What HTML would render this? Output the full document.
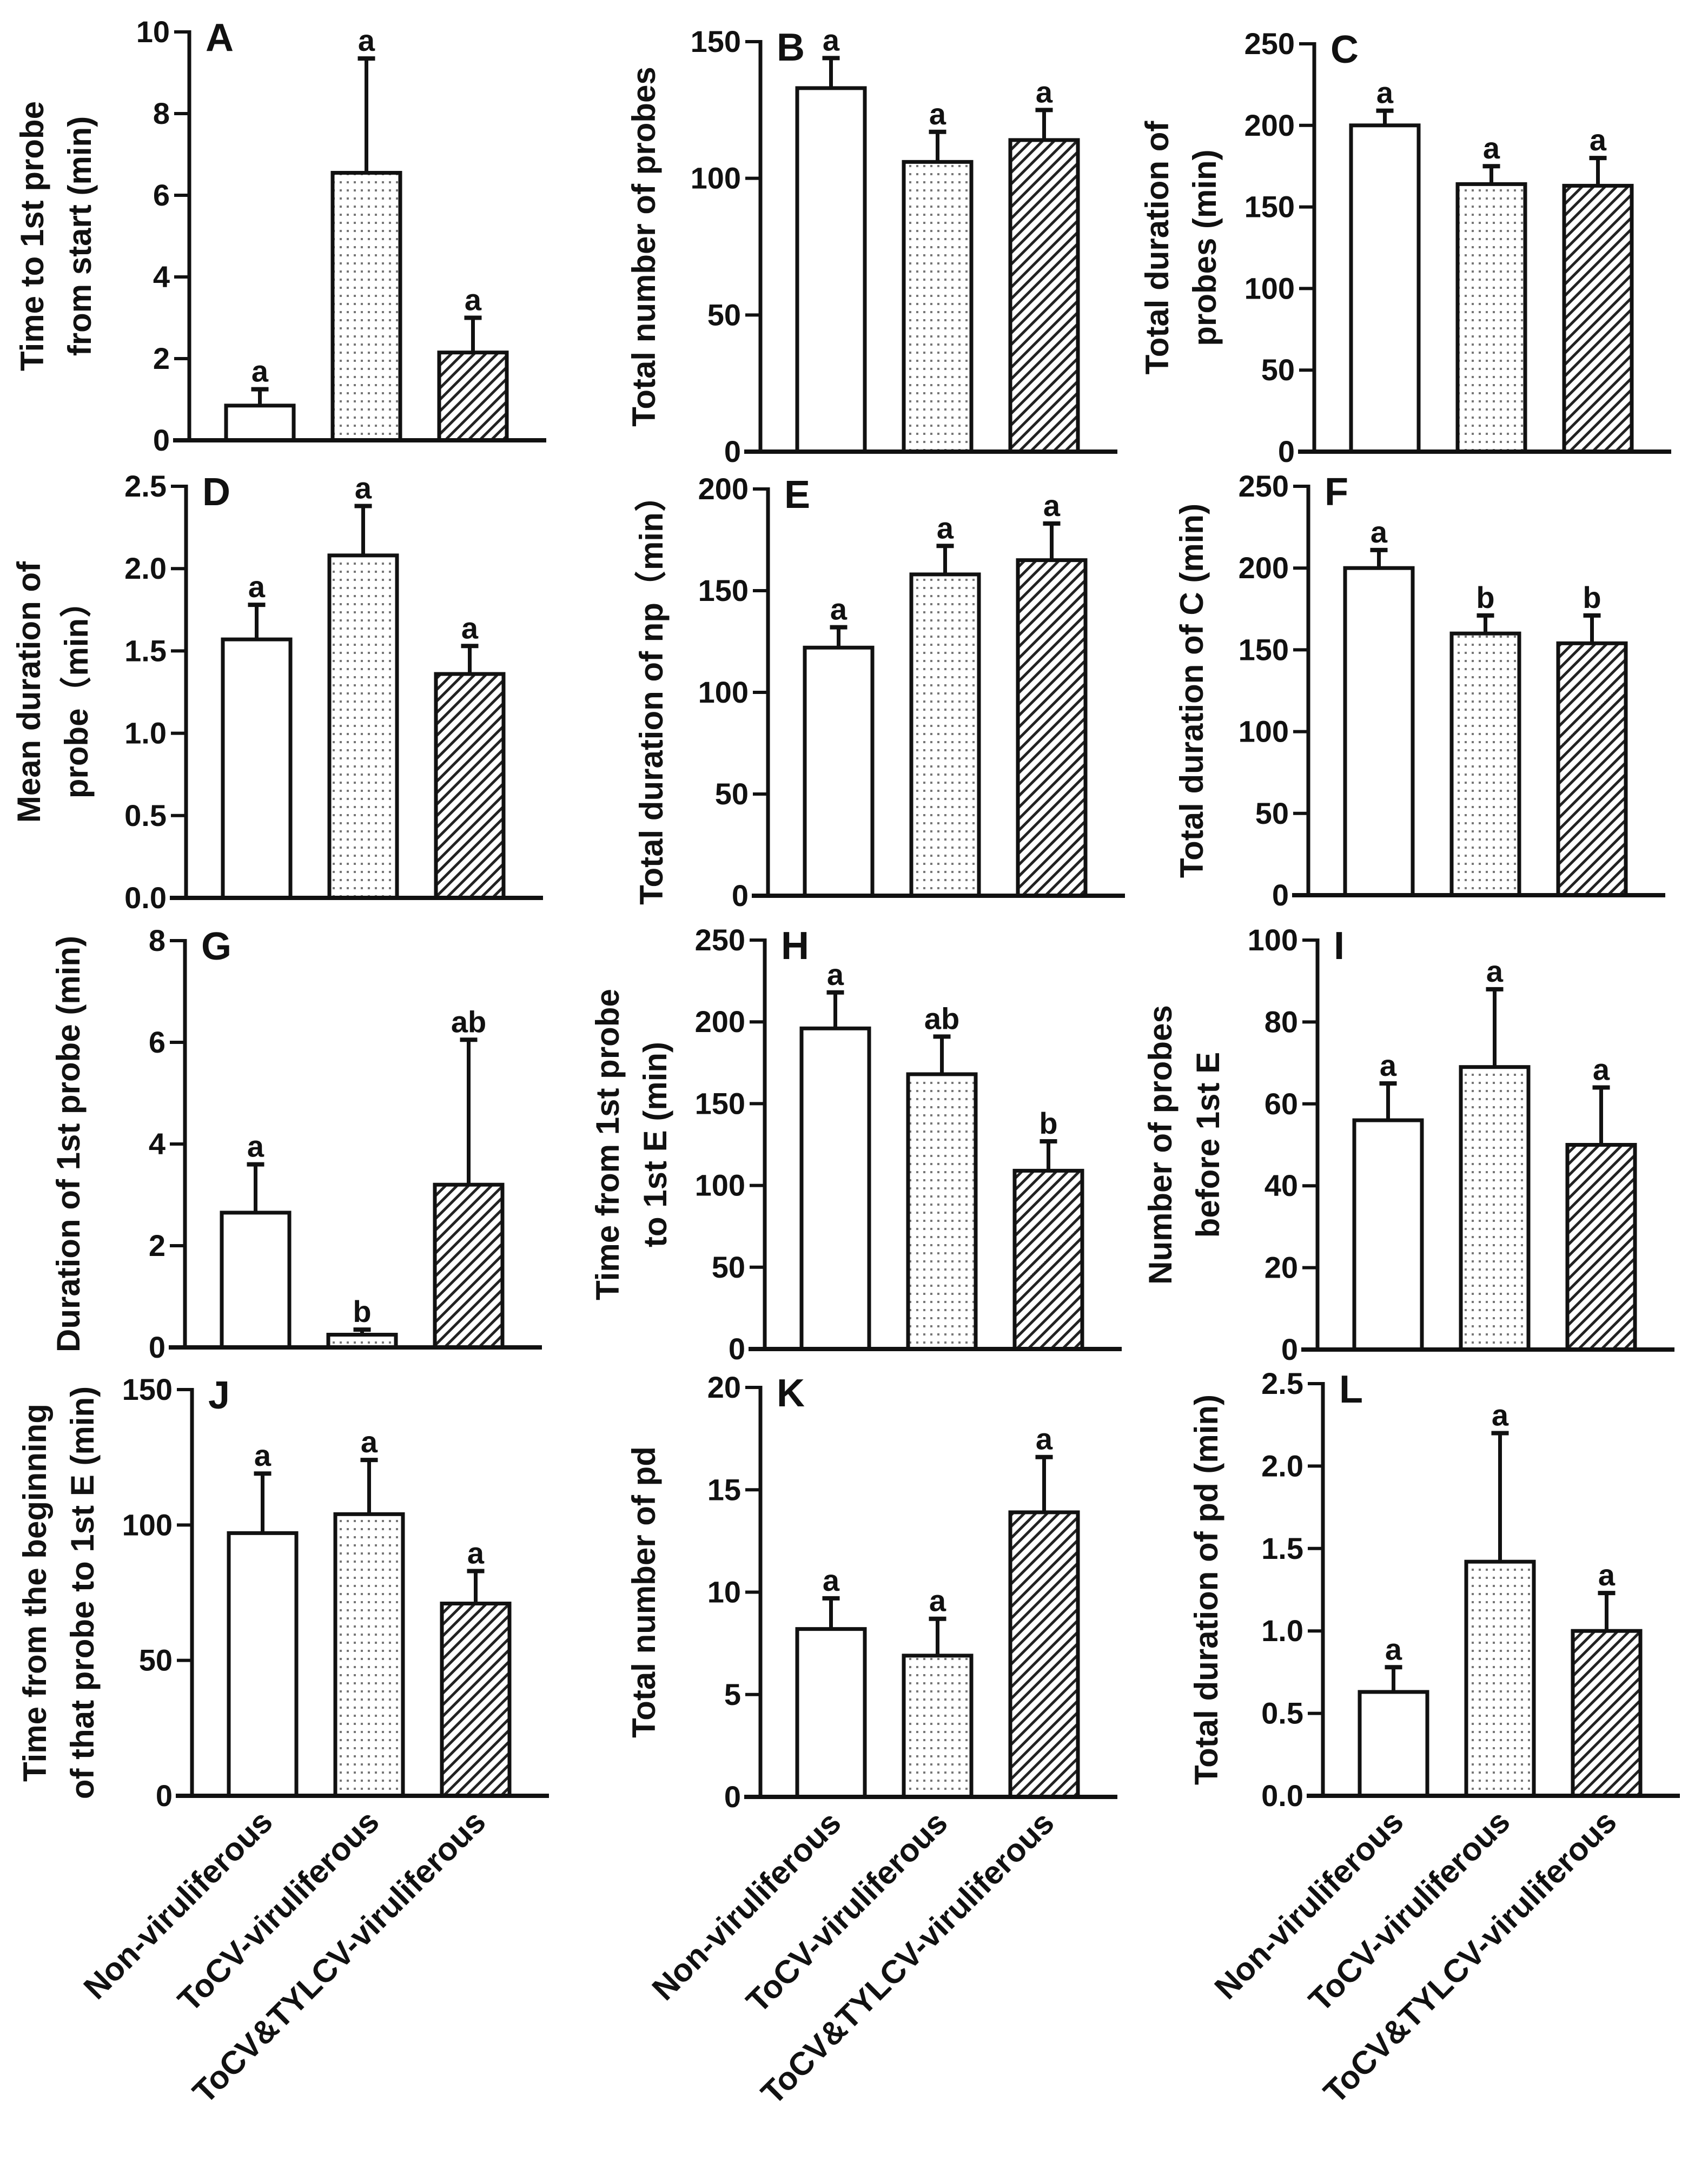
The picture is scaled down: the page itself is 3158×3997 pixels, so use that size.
<!DOCTYPE html>
<html><head><meta charset="utf-8"><style>
html,body{margin:0;padding:0;background:#fff;}
svg{display:block;}
</style></head><body>
<svg id="fig" width="3158" height="3997" xmlns="http://www.w3.org/2000/svg">
<defs>
<pattern id="dots" width="13" height="15" patternUnits="userSpaceOnUse">
<rect width="13" height="15" fill="#fff"/>
<rect x="4" y="5" width="4" height="4" fill="#777"/>
</pattern>
<pattern id="hatch" width="15" height="15" patternUnits="userSpaceOnUse" patternTransform="rotate(45)">
<rect width="15" height="15" fill="#fff"/>
<rect x="0" y="0" width="5" height="15" fill="#222"/>
</pattern>
</defs>
</svg>
<script>
const categories = ["Non-viruliferous", "ToCV-viruliferous", "ToCV&TYLCV-viruliferous"];

const aMeans = [0.85, 6.55, 2.15];
const aErrs = [1.25, 9.35, 3.0];
const aLetters = ["a", "a", "a"];
const aTicks = [0, 2, 4, 6, 8, 10];

const bMeans = [133, 106, 114];
const bErrs = [144, 117, 125];
const bLetters = ["a", "a", "a"];
const bTicks = [0, 50, 100, 150];

const cMeans = [200, 164, 163];
const cErrs = [209, 175, 180];
const cLetters = ["a", "a", "a"];
const cTicks = [0, 50, 100, 150, 200, 250];

const dMeans = [1.57, 2.08, 1.36];
const dErrs = [1.78, 2.38, 1.53];
const dLetters = ["a", "a", "a"];
const dTicks = [0, 0.5, 1.0, 1.5, 2.0, 2.5];

const eMeans = [122, 158, 165];
const eErrs = [132, 172, 183];
const eLetters = ["a", "a", "a"];
const eTicks = [0, 50, 100, 150, 200];

const fMeans = [200, 160, 154];
const fErrs = [211, 171, 171];
const fLetters = ["a", "b", "b"];
const fTicks = [0, 50, 100, 150, 200, 250];

const gMeans = [2.65, 0.25, 3.2];
const gErrs = [3.6, 0.35, 6.05];
const gLetters = ["a", "b", "ab"];
const gTicks = [0, 2, 4, 6, 8];

const hMeans = [196, 168, 109];
const hErrs = [218, 191, 127];
const hLetters = ["a", "ab", "b"];
const hTicks = [0, 50, 100, 150, 200, 250];

const iMeans = [56, 69, 50];
const iErrs = [65, 88, 64];
const iLetters = ["a", "a", "a"];
const iTicks = [0, 20, 40, 60, 80, 100];

const jMeans = [97, 104, 71];
const jErrs = [119, 124, 83];
const jLetters = ["a", "a", "a"];
const jTicks = [0, 50, 100, 150];

const kMeans = [8.2, 6.9, 13.9];
const kErrs = [9.7, 8.7, 16.6];
const kLetters = ["a", "a", "a"];
const kTicks = [0, 5, 10, 15, 20];

const lMeans = [0.63, 1.42, 1.0];
const lErrs = [0.78, 2.2, 1.23];
const lLetters = ["a", "a", "a"];
const lTicks = [0, 0.5, 1.0, 1.5, 2.0, 2.5];

const NS = "http://www.w3.org/2000/svg";
const svg = document.getElementById("fig");
function mk(tag, attrs, parent) {
  const e = document.createElementNS(NS, tag);
  for (const k in attrs) e.setAttribute(k, attrs[k]);
  (parent || svg).appendChild(e);
  return e;
}
const fills = ["#fff", "url(#dots)", "url(#hatch)"];
const fillNames = ["solid", "dotted", "hatched"];

function panel(p) {
  const g = mk("g", {});
  
  
  const max = p.ticks[p.ticks.length - 1];
  const y = v => p.bottom - (v / max) * (p.bottom - p.top);
  const barX = [p.ax + 68, p.ax + 265, p.ax + 462];
  const bw = 125;
  for (let i = 0; i < 3; i++) {
    const yt = y(p.means[i]);
    const r = mk("rect", {x: barX[i], y: yt, width: bw, height: p.bottom - yt, fill: fills[i], stroke: "#111", "stroke-width": 7}, g);
    
    
    const cx = barX[i] + bw / 2;
    const ye = y(p.errs[i]);
    const el = mk("line", {x1: cx, x2: cx, y1: yt, y2: ye, stroke: "#111", "stroke-width": 7}, g);
    
    
    mk("line", {x1: cx - 16, x2: cx + 16, y1: ye, y2: ye, stroke: "#111", "stroke-width": 8}, g);
    const t = mk("text", {x: cx, y: ye - 14, "text-anchor": "middle", "font-size": 56, "font-weight": "bold", "font-family": "Liberation Sans, sans-serif", fill: "#111"}, g);
    t.textContent = p.letters[i];
    
    
  }
  const ya = mk("line", {x1: p.ax, x2: p.ax, y1: p.top - 3, y2: p.bottom, stroke: "#111", "stroke-width": 7}, g);
  
  
  const xa = mk("line", {x1: p.ax - 30, x2: p.ax + 660, y1: p.bottom, y2: p.bottom, stroke: "#111", "stroke-width": 8}, g);
  
  
  for (const tv of p.ticks) {
    const yy = y(tv);
    mk("line", {x1: p.ax - 28, x2: p.ax, y1: yy, y2: yy, stroke: "#111", "stroke-width": 6}, g);
    const t = mk("text", {x: p.ax - 36, y: yy + 19, "text-anchor": "end", "font-size": 56, "font-weight": "bold", "font-family": "Liberation Sans Narrow, Liberation Sans, sans-serif", fill: "#111"}, g);
    t.textContent = p.dec ? tv.toFixed(1) : String(tv);
    
    
  }
  const pl = mk("text", {x: p.ax + 30, y: p.top + 35, "font-size": 72, "font-weight": "bold", "font-family": "Liberation Sans, sans-serif", fill: "#111"}, g);
  pl.textContent = p.id;
  
  
  const cy = (p.top + p.bottom) / 2;
  const lines = p.title;
  const xs = lines.length === 1 ? [p.ax - 195] : [p.ax - 270, p.ax - 182];
  lines.forEach((ln, k) => {
    const t = mk("text", {x: xs[k], y: cy, "text-anchor": "middle", "font-size": 60, "font-weight": "bold", "font-family": "Liberation Sans, Noto Sans CJK SC, sans-serif", fill: "#111", transform: `rotate(-90 ${xs[k]} ${cy})`}, g);
    t.textContent = ln;
    
    
  });
  if (p.xlabels) {
    for (let i = 0; i < 3; i++) {
      const tx = barX[i] + bw / 2 + 22, ty = p.bottom + 52;
      const t = mk("text", {x: tx, y: ty, "text-anchor": "end", "font-size": 60, "font-weight": "bold", "font-family": "Liberation Sans, sans-serif", fill: "#111", transform: `rotate(-45 ${tx} ${ty})`}, g);
      t.textContent = categories[i];
      
      
    }
  }
}

panel({id: "A", ax: 350, top: 59, bottom: 814, means: aMeans, errs: aErrs, letters: aLetters, ticks: aTicks, title: ["Time to 1st probe", "from start (min)"]});
panel({id: "B", ax: 1406, top: 77, bottom: 835, means: bMeans, errs: bErrs, letters: bLetters, ticks: bTicks, title: ["Total number of probes"]});
panel({id: "C", ax: 2430, top: 81, bottom: 835, means: cMeans, errs: cErrs, letters: cLetters, ticks: cTicks, title: ["Total duration of", "probes (min)"]});
panel({id: "D", ax: 344, top: 899, bottom: 1660, means: dMeans, errs: dErrs, letters: dLetters, ticks: dTicks, dec: true, title: ["Mean duration of", "probe（min）"]});
panel({id: "E", ax: 1420, top: 904, bottom: 1656, means: eMeans, errs: eErrs, letters: eLetters, ticks: eTicks, title: ["Total duration of np（min）"]});
panel({id: "F", ax: 2419, top: 899, bottom: 1655, means: fMeans, errs: fErrs, letters: fLetters, ticks: fTicks, title: ["Total duration of C (min)"]});
panel({id: "G", ax: 342, top: 1739, bottom: 2491, means: gMeans, errs: gErrs, letters: gLetters, ticks: gTicks, title: ["Duration of 1st probe (min)"]});
panel({id: "H", ax: 1414, top: 1738, bottom: 2494, means: hMeans, errs: hErrs, letters: hLetters, ticks: hTicks, title: ["Time from 1st probe", "to 1st E (min)"]});
panel({id: "I", ax: 2436, top: 1738, bottom: 2495, means: iMeans, errs: iErrs, letters: iLetters, ticks: iTicks, title: ["Number of probes", "before 1st E"]});
panel({id: "J", ax: 355, top: 2569, bottom: 3320, means: jMeans, errs: jErrs, letters: jLetters, ticks: jTicks, xlabels: true, title: ["Time from the beginning", "of that probe to 1st E (min)"]});
panel({id: "K", ax: 1406, top: 2565, bottom: 3322, means: kMeans, errs: kErrs, letters: kLetters, ticks: kTicks, xlabels: true, title: ["Total number of pd"]});
panel({id: "L", ax: 2446, top: 2558, bottom: 3320, means: lMeans, errs: lErrs, letters: lLetters, ticks: lTicks, dec: true, xlabels: true, title: ["Total duration of pd (min)"]});
</script>
</body></html>
